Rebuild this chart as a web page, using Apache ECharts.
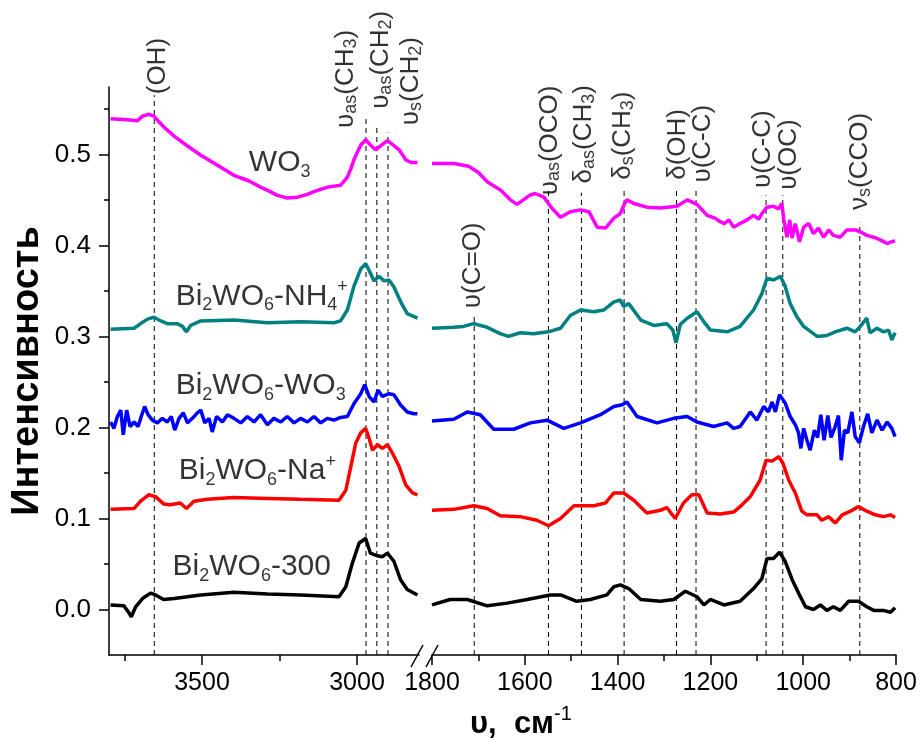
<!DOCTYPE html>
<html><head><meta charset="utf-8">
<script src="https://cdn.jsdelivr.net/npm/echarts@6.0.0/dist/echarts.min.js"></script>
<style>html,body{margin:0;padding:0;background:#fff}#c{width:920px;height:740px}</style>
</head><body><div id="c"></div>
<script>
// ---------- DATA ----------
const yTicks = [0.0, 0.1, 0.2, 0.3, 0.4, 0.5];
const yMinorTicks = [0.05, 0.15, 0.25, 0.35, 0.45, 0.55];
const xTicksLeft = [3000, 3500];
const xMinorLeft = [3250, 3750];

const wo3Left = [[3795,0.539],[3740,0.538],[3708,0.537],[3692,0.542],[3671,0.544],[3655,0.542],[3640,0.536],[3623,0.530],[3590,0.520],[3550,0.510],[3504,0.499],[3450,0.488],[3397,0.477],[3350,0.471],[3311,0.464],[3280,0.459],[3257,0.455],[3225,0.452],[3192,0.453],[3160,0.456],[3139,0.459],[3095,0.464],[3053,0.466],[3031,0.475],[3020,0.484],[3010,0.494],[2998,0.503],[2988,0.510],[2972,0.516],[2956,0.510],[2940,0.505],[2918,0.511],[2902,0.515],[2886,0.511],[2864,0.505],[2850,0.498],[2843,0.494],[2825,0.491],[2805,0.491]];
const wo3Right = [[1800,0.490],[1753,0.490],[1721,0.487],[1700,0.480],[1681,0.470],[1653,0.461],[1631,0.450],[1617,0.445],[1603,0.450],[1590,0.455],[1578,0.457],[1559,0.453],[1542,0.441],[1523,0.431],[1502,0.437],[1480,0.439],[1462,0.437],[1444,0.420],[1426,0.419],[1408,0.430],[1394,0.435],[1385,0.446],[1380,0.450],[1365,0.446],[1337,0.442],[1308,0.441],[1272,0.443],[1250,0.450],[1229,0.445],[1207,0.433],[1190,0.430],[1179,0.426],[1170,0.424],[1160,0.428],[1150,0.420],[1136,0.424],[1121,0.428],[1107,0.433],[1096,0.429],[1089,0.435],[1078,0.442],[1064,0.443],[1053,0.440],[1046,0.446],[1042,0.429],[1035,0.409],[1029,0.428],[1024,0.408],[1017,0.424],[1008,0.404],[999,0.420],[988,0.424],[978,0.413],[967,0.419],[956,0.409],[945,0.417],[935,0.411],[920,0.409],[906,0.417],[888,0.417],[877,0.415],[863,0.411],[848,0.409],[834,0.406],[819,0.402],[809,0.404],[802,0.405]];

const nh4Left = [[3795,0.308],[3719,0.309],[3698,0.314],[3676,0.319],[3655,0.321],[3633,0.317],[3612,0.314],[3580,0.314],[3563,0.311],[3550,0.305],[3537,0.312],[3504,0.317],[3397,0.318],[3289,0.315],[3182,0.316],[3074,0.315],[3053,0.317],[3031,0.329],[3010,0.355],[2988,0.374],[2972,0.380],[2956,0.369],[2945,0.361],[2929,0.366],[2913,0.361],[2897,0.362],[2882,0.355],[2859,0.338],[2838,0.325],[2805,0.320]];
const nh4Right = [[1800,0.309],[1753,0.310],[1732,0.311],[1710,0.314],[1681,0.310],[1653,0.303],[1635,0.300],[1610,0.304],[1581,0.303],[1549,0.305],[1523,0.309],[1502,0.323],[1480,0.329],[1451,0.327],[1430,0.329],[1408,0.338],[1394,0.340],[1387,0.333],[1376,0.336],[1350,0.318],[1322,0.312],[1294,0.314],[1281,0.307],[1274,0.293],[1265,0.313],[1250,0.320],[1229,0.327],[1214,0.316],[1200,0.307],[1164,0.305],[1136,0.311],[1107,0.329],[1089,0.347],[1078,0.364],[1064,0.362],[1049,0.366],[1039,0.355],[1028,0.336],[1014,0.322],[999,0.311],[970,0.300],[949,0.301],[931,0.305],[906,0.309],[888,0.305],[877,0.311],[863,0.320],[856,0.304],[841,0.309],[827,0.305],[816,0.307],[809,0.296],[802,0.304]];

const bwoLeft = [[3795,0.206],[3784,0.199],[3773,0.212],[3762,0.219],[3754,0.192],[3743,0.219],[3732,0.201],[3719,0.206],[3706,0.201],[3696,0.212],[3685,0.223],[3674,0.214],[3660,0.208],[3644,0.205],[3628,0.210],[3612,0.206],[3599,0.212],[3588,0.197],[3574,0.210],[3560,0.216],[3547,0.205],[3531,0.210],[3515,0.216],[3504,0.219],[3491,0.205],[3477,0.210],[3467,0.195],[3453,0.212],[3434,0.206],[3418,0.214],[3397,0.210],[3375,0.205],[3354,0.212],[3332,0.206],[3311,0.214],[3289,0.203],[3268,0.210],[3246,0.206],[3225,0.212],[3203,0.205],[3182,0.210],[3160,0.206],[3139,0.212],[3117,0.205],[3096,0.210],[3074,0.208],[3053,0.211],[3031,0.212],[3010,0.226],[2988,0.237],[2975,0.247],[2961,0.234],[2945,0.228],[2932,0.241],[2918,0.234],[2897,0.237],[2881,0.236],[2860,0.225],[2838,0.217],[2816,0.215],[2805,0.215]];
const bwoRight = [[1800,0.207],[1753,0.209],[1724,0.217],[1696,0.214],[1667,0.198],[1624,0.198],[1588,0.205],[1552,0.208],[1516,0.199],[1480,0.205],[1437,0.214],[1408,0.223],[1390,0.225],[1380,0.228],[1358,0.212],[1315,0.205],[1279,0.210],[1250,0.212],[1229,0.206],[1193,0.201],[1164,0.205],[1150,0.199],[1136,0.201],[1114,0.217],[1100,0.208],[1085,0.223],[1075,0.217],[1067,0.228],[1060,0.217],[1051,0.236],[1039,0.227],[1028,0.212],[1017,0.203],[1010,0.194],[1005,0.177],[999,0.199],[992,0.186],[985,0.175],[976,0.197],[969,0.189],[962,0.214],[955,0.186],[947,0.213],[940,0.189],[931,0.201],[924,0.213],[918,0.164],[911,0.197],[904,0.194],[895,0.217],[888,0.190],[879,0.183],[870,0.201],[861,0.215],[852,0.194],[841,0.208],[830,0.197],[819,0.206],[809,0.199],[802,0.190]];

const naLeft = [[3795,0.110],[3719,0.111],[3698,0.119],[3672,0.126],[3650,0.124],[3624,0.116],[3602,0.115],[3570,0.117],[3550,0.111],[3526,0.119],[3483,0.121],[3397,0.123],[3289,0.122],[3182,0.121],[3058,0.120],[3036,0.131],[3020,0.157],[3004,0.183],[2988,0.194],[2972,0.199],[2961,0.188],[2950,0.175],[2934,0.181],[2918,0.177],[2902,0.181],[2886,0.172],[2864,0.157],[2843,0.137],[2821,0.128],[2805,0.126]];
const naRight = [[1800,0.109],[1753,0.110],[1710,0.114],[1681,0.111],[1653,0.103],[1610,0.102],[1574,0.098],[1549,0.092],[1523,0.100],[1494,0.114],[1451,0.114],[1426,0.117],[1408,0.128],[1387,0.128],[1365,0.120],[1337,0.106],[1308,0.109],[1294,0.112],[1276,0.100],[1258,0.117],[1240,0.126],[1225,0.126],[1207,0.106],[1179,0.105],[1150,0.107],[1136,0.113],[1114,0.124],[1093,0.142],[1080,0.164],[1067,0.163],[1053,0.168],[1044,0.161],[1031,0.142],[1017,0.128],[1003,0.108],[992,0.104],[970,0.104],[960,0.098],[945,0.102],[931,0.095],[916,0.104],[898,0.108],[881,0.113],[863,0.108],[845,0.104],[827,0.102],[812,0.104],[802,0.101]];

const b300Left = [[3795,0.005],[3752,0.004],[3735,-0.004],[3728,-0.008],[3714,0.003],[3692,0.012],[3666,0.018],[3650,0.016],[3624,0.011],[3590,0.012],[3504,0.016],[3397,0.019],[3289,0.017],[3182,0.016],[3058,0.014],[3036,0.025],[3015,0.051],[2993,0.073],[2972,0.078],[2957,0.062],[2934,0.059],[2918,0.058],[2902,0.062],[2881,0.053],[2860,0.033],[2838,0.022],[2805,0.016]];
const b300Right = [[1800,0.005],[1761,0.011],[1724,0.011],[1681,0.004],[1638,0.007],[1595,0.011],[1545,0.016],[1523,0.016],[1488,0.009],[1459,0.011],[1423,0.016],[1408,0.025],[1394,0.027],[1376,0.023],[1350,0.011],[1308,0.009],[1279,0.011],[1254,0.020],[1229,0.014],[1214,0.005],[1200,0.011],[1171,0.005],[1136,0.009],[1107,0.023],[1089,0.034],[1078,0.056],[1064,0.056],[1051,0.063],[1039,0.053],[1024,0.033],[1010,0.018],[995,0.003],[978,0.000],[963,0.005],[949,-0.001],[935,0.003],[920,-0.001],[902,0.009],[881,0.009],[863,0.003],[848,-0.001],[827,-0.001],[812,-0.003],[802,0.002]];

// band assignment lines: wavenumber and top value
const bandLeft = [[3654,0.565],[2971,0.543],[2936,0.530],[2900,0.524]];
const bandRight = [[1709,0.323],[1549,0.461],[1478,0.458],[1386,0.464],[1273,0.464],[1231,0.461],[1080,0.455],[1044,0.455],[878,0.425]];
const bandTextLeft = ['{m|(OH)}', '{m|υ}{s|as}{m|(CH}{s|3}{m|)}', '{m|υ}{s|as}{m|(CH}{s|2}{m|)}', '{m|υ}{s|s}{m|(CH}{s|2}{m|)}'];
const bandTextRight = ['{m|υ(C=O)}', '{m|υ}{s|as}{m|(OCO)}', '{m|δ}{s|as}{m|(CH}{s|3}{m|)}', '{m|δ}{s|s}{m|(CH}{s|3}{m|)}', '{m|δ(OH)}', '{m|υ(C-C)}', '{m|υ(C-C)}', '{m|υ(OC)}', '{m|ν}{s|s}{m|(CCO)}'];
const sampleNames = ['{M|WO}{S|3}', '{M|Bi}{S|2}{M|WO}{S|6}{M|-NH}{S|4}{P|+}', '{M|Bi}{S|2}{M|WO}{S|6}{M|-WO}{S|3}', '{M|Bi}{S|2}{M|WO}{S|6}{M|-Na}{P|+}', '{M|Bi}{S|2}{M|WO}{S|6}{M|-300}'];

// ---------- LAYOUT (text anchors in data coords) ----------
const bandLabelPosLeft = [[3643,0.566],[3036,0.529],[2924,0.550],[2827,0.532]];
const bandLabelPosRight = [[1711,0.331],[1547,0.455],[1472,0.468],[1388,0.472],[1271,0.472],[1217,0.469],[1088,0.463],[1030,0.461],[877,0.439]];
const sampleLabelPos = [[3349,0.491],[3585,0.344],[3585,0.2456],[3575,0.152],[3595,0.047]];

const FONT = "'Liberation Sans', Arial, sans-serif";
const YMIN = -0.05, YMAX = 0.574;
const colors = ['#FF00FF', '#008080', '#0000FF', '#FF0000', '#000000'];

const chart = echarts.init(document.getElementById('c'), null, {renderer: 'canvas'});

function spec(data, color, xi, yi) {
  return {type: 'line', data: data, xAxisIndex: xi, yAxisIndex: yi, symbol: 'none',
    lineStyle: {color: color, width: 3.5}, z: 3, silent: true, animation: false};
}
function dash(x, top, xi, yi) {
  return {type: 'line', data: [[x, YMIN], [x, top]], xAxisIndex: xi, yAxisIndex: yi, symbol: 'none',
    lineStyle: {color: '#000', width: 1, type: [5, 4]}, z: 2, silent: true, animation: false};
}
function bandLabels(pos, texts, xi, yi) {
  return {type: 'scatter', xAxisIndex: xi, yAxisIndex: yi, symbolSize: 0, silent: true, animation: false, z: 5,
    data: pos.map((p, i) => ({value: p, label: {formatter: texts[i]}})),
    label: {show: true, position: [0, 0], rotate: 90, align: 'left', verticalAlign: 'middle',
      fontFamily: FONT, color: '#000',
      rich: {m: {fontSize: 26, lineHeight: 28, fontFamily: FONT, color: '#000'},
             s: {fontSize: 18, lineHeight: 4, verticalAlign: 'bottom', fontFamily: FONT, color: '#000'}}}};
}
function axLine() { return {show: true, onZero: false, lineStyle: {color: '#000', width: 1.5, opacity: 1}}; }
function tickStyle() { return {color: '#000', width: 1.5, opacity: 1}; }

const series = [];
bandLeft.forEach(b => series.push(dash(b[0], b[1], 0, 0)));
bandRight.forEach(b => series.push(dash(b[0], b[1], 2, 2)));
const leftSets = [wo3Left, nh4Left, bwoLeft, naLeft, b300Left];
const rightSets = [wo3Right, nh4Right, bwoRight, naRight, b300Right];
leftSets.forEach((d, i) => series.push(spec(d, colors[i], 0, 0)));
rightSets.forEach((d, i) => series.push(spec(d, colors[i], 2, 2)));
series.push(bandLabels(bandLabelPosLeft, bandTextLeft, 0, 0));
series.push(bandLabels(bandLabelPosRight, bandTextRight, 2, 2));
series.push({type: 'scatter', xAxisIndex: 0, yAxisIndex: 0, symbolSize: 0, silent: true, animation: false, z: 5,
  data: sampleLabelPos.map((p, i) => ({value: p, label: {formatter: sampleNames[i]}})),
  label: {show: true, position: [0, 0], align: 'left', verticalAlign: 'middle',
    fontFamily: FONT, color: '#000',
    rich: {M: {fontSize: 30, lineHeight: 36, fontFamily: FONT, color: '#000'},
           S: {fontSize: 18, lineHeight: 4, verticalAlign: 'bottom', fontFamily: FONT, color: '#000'},
           P: {fontSize: 18, lineHeight: 18, verticalAlign: 'top', fontFamily: FONT, color: '#000'}}}});

const num = v => String(Math.round(v));
const option = {
  backgroundColor: '#fff',
  animation: false,
  grid: [
    {left: 109, top: 87, width: 310, height: 568, show: false},
    {left: 432, top: 87, width: 464, height: 568, show: false}
  ],
  xAxis: [
    {type: 'value', gridIndex: 0, min: 2800, max: 3800, inverse: true, position: 'bottom', axisLine: axLine(),
      axisTick: {show: true, customValues: xTicksLeft, length: 10, lineStyle: tickStyle()},
      axisLabel: {show: true, customValues: xTicksLeft, margin: 16, fontSize: 25, fontFamily: FONT, color: '#000', formatter: num},
      splitLine: {show: false}},
    {type: 'value', gridIndex: 0, min: 2800, max: 3800, inverse: true, position: 'bottom',
      axisLine: {show: false, onZero: false},
      axisTick: {show: true, customValues: xMinorLeft, length: 6, lineStyle: tickStyle()},
      axisLabel: {show: false}, splitLine: {show: false}},
    {type: 'value', gridIndex: 1, min: 800, max: 1800, interval: 200, inverse: true, position: 'bottom', axisLine: axLine(),
      axisTick: {show: true, length: 10, lineStyle: tickStyle()},
      minorTick: {show: true, splitNumber: 2, length: 6, lineStyle: tickStyle()},
      axisLabel: {show: true, margin: 16, fontSize: 25, fontFamily: FONT, color: '#000', showMinLabel: true, showMaxLabel: true, formatter: num},
      splitLine: {show: false}, minorSplitLine: {show: false}}
  ],
  yAxis: [
    {type: 'value', gridIndex: 0, min: YMIN, max: YMAX, position: 'left', axisLine: axLine(),
      axisTick: {show: true, customValues: yTicks, length: 10, lineStyle: tickStyle()},
      axisLabel: {show: true, customValues: yTicks, margin: 18, fontSize: 26, fontFamily: FONT, color: '#000',
        formatter: v => v.toFixed(1)},
      splitLine: {show: false},
      name: 'Интенсивность', nameLocation: 'middle', nameGap: 62, nameRotate: 90,
      nameTextStyle: {fontSize: 38, fontWeight: 'bold', fontFamily: FONT, color: '#000'}},
    {type: 'value', gridIndex: 0, min: YMIN, max: YMAX, position: 'left', axisLine: {show: false, onZero: false},
      axisTick: {show: true, customValues: yMinorTicks, length: 5, lineStyle: tickStyle()},
      axisLabel: {show: false}, splitLine: {show: false}},
    {type: 'value', gridIndex: 1, min: YMIN, max: YMAX, show: false, splitLine: {show: false}}
  ],
  graphic: [
    {type: 'line', shape: {x1: 411, y1: 667, x2: 423, y2: 645}, style: {stroke: '#000', lineWidth: 1.5}, silent: true},
    {type: 'line', shape: {x1: 426, y1: 667, x2: 438, y2: 645}, style: {stroke: '#000', lineWidth: 1.5}, silent: true},
    {type: 'text', x: 470, y: 724, silent: true,
      style: {text: '{m|υ,  см}{p|-1}', verticalAlign: 'middle', align: 'left',
        rich: {m: {fontSize: 31, fontWeight: 'bold', lineHeight: 40, fontFamily: FONT, fill: '#000', color: '#000'},
               p: {fontSize: 20, lineHeight: 4, verticalAlign: 'top', fontFamily: FONT, fill: '#000', color: '#000'}}}}
  ],
  series: series
};
chart.setOption(option);
</script>
</body></html>
